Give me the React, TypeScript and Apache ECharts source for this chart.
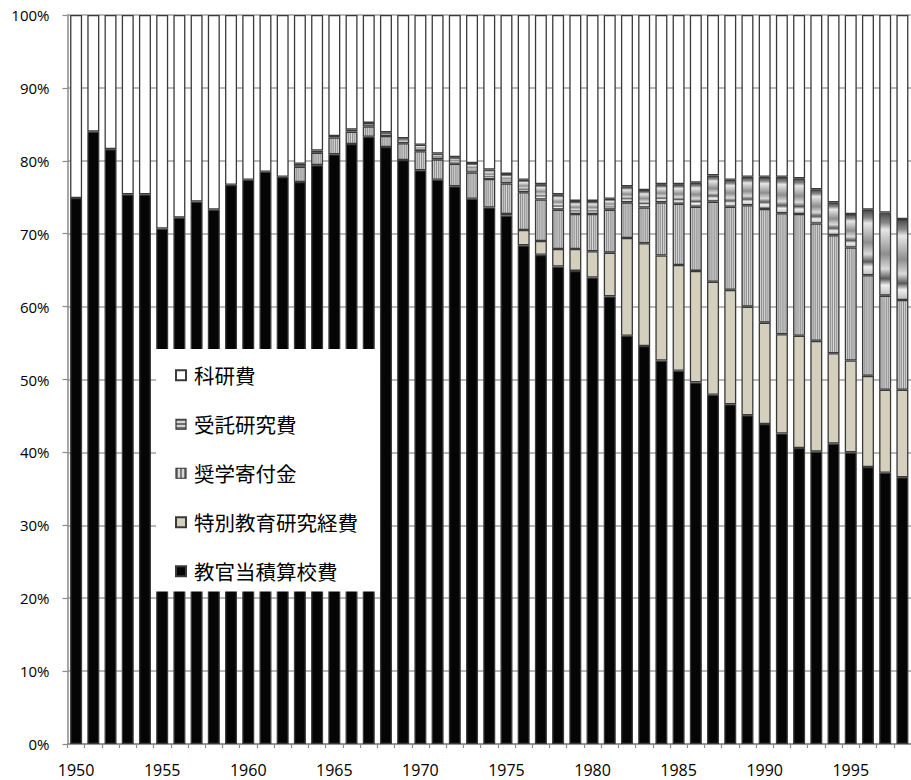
import React, { useEffect, useRef } from "react";
import * as echarts from "echarts";

// Fiscal years on the category axis
const years: string[] = [];
for (let y = 1950; y <= 1998; y++) years.push(String(y));

// Share of each funding source (%), stacked from the bottom up
const kyokanKohi = [
  74.9, 84.0, 81.6, 75.4, 75.4, 70.7, 72.2, 74.4, 73.3, 76.7,
  77.4, 78.5, 77.8, 77.1, 79.4, 80.9, 82.3, 83.3, 81.9, 80.1,
  78.7, 77.4, 76.5, 74.8, 73.6, 72.5, 68.4, 67.1, 65.5, 64.9,
  64.0, 61.4, 56.0, 54.6, 52.6, 51.2, 49.6, 47.9, 46.6, 45.1,
  43.9, 42.6, 40.6, 40.1, 41.2, 40.0, 38.0, 37.2, 36.6,
];
const tokubetsuKeihi = [
  0, 0, 0, 0, 0, 0, 0, 0, 0, 0,
  0, 0, 0, 0, 0, 0, 0, 0, 0, 0,
  0, 0, 0, 0, 0, 0.2, 2.1, 1.9, 2.4, 3.0,
  3.6, 6.0, 13.4, 14.1, 14.4, 14.5, 15.3, 15.5, 15.7, 14.9,
  13.9, 13.6, 15.4, 15.2, 12.4, 12.6, 12.5, 11.4, 12.0,
];
const shogakuKifu = [
  0, 0, 0, 0, 0, 0, 0, 0, 0, 0,
  0, 0, 0, 2.1, 1.7, 2.3, 1.7, 1.4, 1.5, 2.3,
  2.6, 2.8, 3.1, 3.6, 3.9, 4.2, 5.2, 5.7, 5.4, 4.8,
  5.1, 5.9, 4.9, 4.9, 7.3, 8.4, 8.8, 11.0, 11.4, 13.9,
  15.6, 16.6, 16.7, 16.1, 16.2, 15.5, 13.8, 12.9, 12.3,
];
const jutakuKenkyu = [
  0, 0, 0, 0, 0, 0, 0, 0, 0, 0,
  0, 0, 0, 0.4, 0.3, 0.2, 0.3, 0.5, 0.5, 0.7,
  0.9, 0.8, 0.9, 1.3, 1.3, 1.3, 1.7, 2.1, 2.1, 1.8,
  1.8, 1.5, 2.2, 2.4, 2.5, 2.7, 3.3, 3.6, 3.7, 3.9,
  4.4, 5.0, 4.9, 4.7, 4.5, 4.6, 9.0, 11.4, 11.1,
];
const kakenhi = [
  25.1, 16.0, 18.4, 24.6, 24.6, 29.3, 27.8, 25.6, 26.7, 23.3,
  22.6, 21.5, 22.2, 20.4, 18.6, 16.6, 15.7, 14.8, 16.1, 16.9,
  17.8, 19.0, 19.5, 20.3, 21.2, 21.8, 22.6, 23.2, 24.6, 25.5,
  25.5, 25.2, 23.5, 24.0, 23.2, 23.2, 23.0, 22.0, 22.6, 22.2,
  22.2, 22.2, 22.4, 23.9, 25.7, 27.3, 26.7, 27.1, 28.0,
];

const legendOrder = ["科研費", "受託研究費", "奨学寄付金", "特別教育研究経費", "教官当積算校費"];

const stripesVertical = new echarts.graphic.LinearGradient(0, 0, 1, 0, [
  { offset: 0, color: "#9a9a9a" },
  { offset: 0.1, color: "#d8d8d8" },
  { offset: 0.2, color: "#8c8c8c" },
  { offset: 0.3, color: "#cdcdcd" },
  { offset: 0.4, color: "#909090" },
  { offset: 0.5, color: "#dcdcdc" },
  { offset: 0.6, color: "#8a8a8a" },
  { offset: 0.7, color: "#d0d0d0" },
  { offset: 0.8, color: "#959595" },
  { offset: 0.9, color: "#d6d6d6" },
  { offset: 1, color: "#a0a0a0" },
]);

const bandsHorizontal = new echarts.graphic.LinearGradient(0, 0, 0, 1, [
  { offset: 0, color: "#4a4a4a" },
  { offset: 0.12, color: "#8a8a8a" },
  { offset: 0.2, color: "#e6e6e6" },
  { offset: 0.32, color: "#c4c4c4" },
  { offset: 0.5, color: "#8e8e8e" },
  { offset: 0.68, color: "#dadada" },
  { offset: 0.8, color: "#5a5a5a" },
  { offset: 0.88, color: "#f0f0f0" },
  { offset: 1, color: "#bdbdbd" },
]);

// Hard-edged stripes for the small legend swatches
const hardStripes = (x2: number, y2: number, dark: string, light: string, n: number) => {
  const stops: { offset: number; color: string }[] = [];
  for (let i = 0; i < n; i++) {
    const c = i % 2 === 0 ? dark : light;
    stops.push({ offset: i / n, color: c });
    stops.push({ offset: (i + 1) / n, color: c });
  }
  return new echarts.graphic.LinearGradient(0, 0, x2, y2, stops);
};

const nz = (arr: number[]) => arr.map((v) => (v === 0 ? null : v));

export default function App() {
  const ref = useRef<HTMLDivElement>(null);

  useEffect(() => {
    if (!ref.current) return;
    const chart = echarts.init(ref.current, undefined, { renderer: "svg" });

    const border = { borderColor: "#3a3a3a", borderWidth: 1.3 };
    const mk = (name: string, data: (number | null)[], color: any) => ({
      name,
      type: "bar",
      stack: "total",
      barWidth: 12,
      data,
      itemStyle: { color, ...border },
      emphasis: { disabled: true },
    });

    const legendIcon: Record<string, any> = {
      受託研究費: hardStripes(0, 1, "#6e6e6e", "#d4d4d4", 5),
      奨学寄付金: hardStripes(1, 0, "#7a7a7a", "#d8d8d8", 5),
    };

    chart.setOption({
      animation: false,
      backgroundColor: "#ffffff",
      grid: { left: 67.5, top: 15, width: 857.5, bottom: 36, containLabel: false },
      legend: {
        data: legendOrder.map((name) =>
          legendIcon[name]
            ? { name, itemStyle: { color: legendIcon[name], borderColor: "#333", borderWidth: 1.2 } }
            : { name }
        ),
        orient: "vertical",
        left: 156,
        top: 349,
        backgroundColor: "#ffffff",
        padding: [16, 22, 10, 19],
        itemGap: 28.5,
        itemWidth: 10,
        itemHeight: 10,
        icon: "rect",
        selectedMode: false,
        textStyle: {
          fontFamily: "Noto Sans CJK JP",
          fontSize: 20.5,
          lineHeight: 20,
          color: "#000",
          padding: [0, 0, 0, 3],
        },
      },
      xAxis: {
        type: "category",
        data: years,
        boundaryGap: true,
        axisLine: { lineStyle: { color: "#8a8a8a", width: 1.5 } },
        axisTick: { show: true, interval: 0, length: 4, lineStyle: { color: "#8a8a8a", width: 1.2 } },
        axisLabel: {
          interval: 4,
          margin: 18,
          fontFamily: "Open Sans",
          fontSize: 16,
          color: "#000",
        },
      },
      yAxis: {
        type: "value",
        min: 0,
        max: 100,
        interval: 10,
        axisLine: { show: true, lineStyle: { color: "#8a8a8a", width: 1.5 } },
        axisTick: { show: true, length: 5, lineStyle: { color: "#8a8a8a", width: 1.2 } },
        axisLabel: {
          formatter: "{value}%",
          margin: 18,
          fontFamily: "Open Sans",
          fontSize: 15,
          color: "#000",
        },
        splitLine: { show: true, lineStyle: { color: "#a0a0a0", width: 1.5 } },
      },
      series: [
        mk("教官当積算校費", nz(kyokanKohi), "#050505"),
        mk("特別教育研究経費", nz(tokubetsuKeihi), "#d5d0be"),
        mk("奨学寄付金", nz(shogakuKifu), stripesVertical),
        mk("受託研究費", nz(jutakuKenkyu), bandsHorizontal),
        mk("科研費", nz(kakenhi), "#ffffff"),
      ],
    });

    return () => chart.dispose();
  }, []);

  return (
    <div
      ref={ref}
      style={{ position: "fixed", left: 0, top: 0, width: 911, height: 780, overflow: "hidden" }}
    />
  );
}
